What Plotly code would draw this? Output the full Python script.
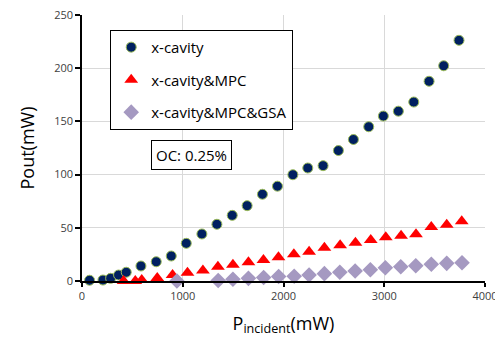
import plotly.graph_objects as go

# x-cavity
xc_x = [75, 208, 284, 363, 439, 585, 737, 886, 1035, 1190, 1339, 1491, 1639, 1791, 1940,
        2093, 2241, 2393, 2545, 2694, 2846, 2991, 3140, 3293, 3445, 3590, 3742]
xc_y = [0.7, 0.9, 2.5, 5.6, 8.2, 14.1, 18.1, 23.5, 35.4, 44.2, 53.3, 61.7, 70.8, 81.5, 89.1,
        99.9, 106.2, 108.4, 122.6, 133.0, 145.0, 155.0, 159.6, 168.2, 187.7, 202.3, 226.2]

# x-cavity&MPC
mpc_x = [413, 529, 593, 747, 899, 1047, 1200, 1349, 1498, 1652, 1801, 1950, 2103, 2254,
         2406, 2562, 2714, 2866, 3015, 3167, 3315, 3467, 3620, 3769]
mpc_y = [0.0, 0.0, 0.9, 2.8, 5.6, 7.8, 9.9, 13.4, 15.3, 17.6, 19.7, 22.3, 25.1, 27.5,
         31.3, 33.6, 36.0, 38.5, 41.1, 42.6, 43.9, 50.8, 52.9, 56.1]

# x-cavity&MPC&GSA
gsa_x = [942, 1352, 1498, 1652, 1803, 1952, 2106, 2254, 2406, 2559, 2711, 2862, 3011,
         3164, 3313, 3467, 3620, 3772]
gsa_y = [0.0, 0.5, 1.6, 2.5, 3.3, 4.2, 4.4, 5.6, 6.9, 8.2, 9.4, 10.6, 12.5, 13.4,
         14.4, 15.7, 16.6, 17.2]

x_ticks = [0, 1000, 2000, 3000, 4000]
y_ticks = [0, 50, 100, 150, 200, 250]

FONT = "Open Sans"

fig = go.Figure()
fig.add_trace(go.Scatter(x=xc_x, y=xc_y, mode="markers", name="x-cavity", legendgroup="a",
                         marker=dict(symbol="circle", size=10, color="#002060",
                                     line=dict(color="#9bbb59", width=1)),
                         cliponaxis=False))
fig.add_trace(go.Scatter(x=mpc_x, y=mpc_y, mode="markers", name="x-cavity&MPC", legendgroup="b",
                         marker=dict(symbol="triangle-up", size=12, color="#ff0000",
                                     line=dict(width=0)),
                         cliponaxis=False))
fig.add_trace(go.Scatter(x=gsa_x, y=gsa_y, mode="markers", name="x-cavity&MPC&GSA", legendgroup="c",
                         marker=dict(symbol="diamond", size=12, color="#a599c1",
                                     line=dict(width=0)),
                         cliponaxis=False))

fig.add_annotation(x=1084, y=118, xref="x", yref="y", text="OC: 0.25%", showarrow=False,
                   font=dict(family=FONT, size=15, color="#000000"),
                   bordercolor="#000000", borderwidth=1, borderpad=4, bgcolor="#ffffff")

# page body has an 8px margin, so the figure is sized/offset to compensate
fig.update_layout(
    width=495, height=336,
    margin=dict(l=74, r=18, t=7, b=63),
    paper_bgcolor="#ffffff", plot_bgcolor="#ffffff",
    font=dict(family=FONT, color="#000000"),
    showlegend=True,
    legend=dict(x=0.07, y=0.944, xanchor="left", yanchor="top",
                bgcolor="#ffffff", bordercolor="#000000", borderwidth=1,
                font=dict(family=FONT, size=15, color="#000000"),
                tracegroupgap=10, itemwidth=30),
    xaxis=dict(range=[0, 4000], tickvals=x_ticks, ticktext=[str(v) for v in x_ticks],
               automargin=False, ticklabeloverflow="allow",
               showgrid=True, gridcolor="#d9d9d9", gridwidth=1, zeroline=False,
               showline=True, linecolor="#000000", linewidth=1.5,
               ticks="outside", ticklen=4, tickcolor="#000000", tickwidth=1.5,
               tickfont=dict(family=FONT, size=11, color="#404040"),
               title=dict(text="P<sub>incident</sub>(mW)", font=dict(family=FONT, size=18, color="#000000"))),
    yaxis=dict(range=[0, 250], tickvals=y_ticks, ticktext=[str(v) for v in y_ticks],
               automargin=False, ticklabeloverflow="allow",
               showgrid=True, gridcolor="#d9d9d9", gridwidth=1, zeroline=False,
               showline=True, linecolor="#000000", linewidth=1.5,
               ticks="outside", ticklen=5, tickcolor="#000000", tickwidth=1.5,
               tickfont=dict(family=FONT, size=11, color="#404040"),
               title=dict(text="Pout(mW)", font=dict(family=FONT, size=18, color="#000000"))),
)

fig.write_html("out.html")
